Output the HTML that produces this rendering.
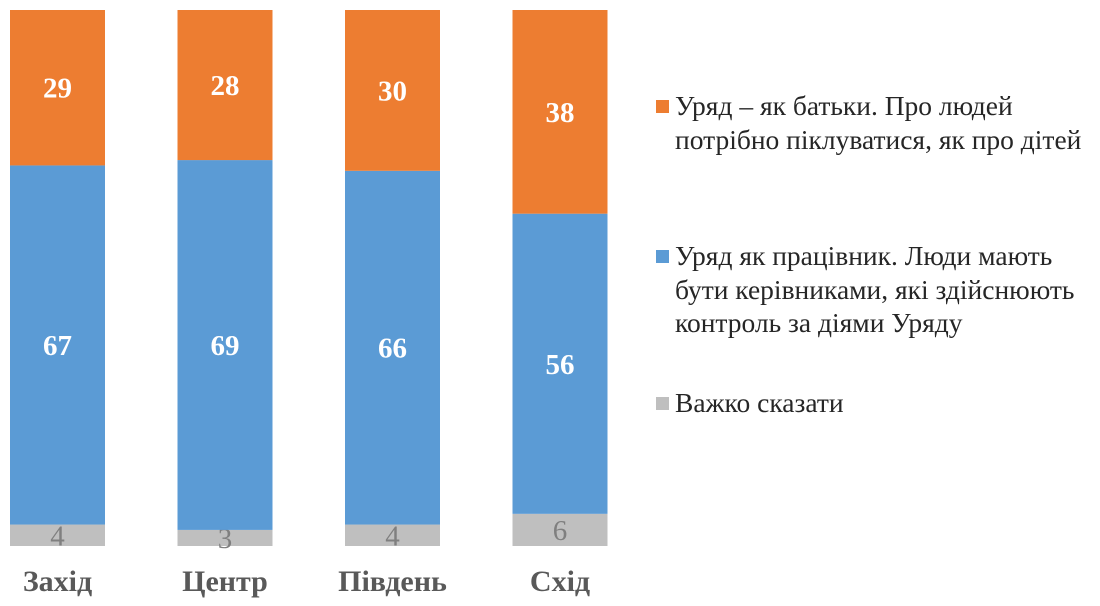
<!DOCTYPE html>
<html><head><meta charset="utf-8"><style>
body{margin:0;background:#fff;width:1100px;height:606px;overflow:hidden;font-family:"Liberation Serif",serif}
.leg{position:absolute;left:675px;font-size:27.5px;color:#262626;line-height:33.5px;white-space:nowrap}
.sq{position:absolute;left:656px;width:13px;height:13px}
</style></head><body>
<svg id="chart" width="650" height="606" style="position:absolute;left:0;top:0"></svg>
<div class="sq" style="top:100px;background:#ED7D31"></div>
<div class="leg" style="top:89px">Уряд – як батьки. Про людей<br>потрібно піклуватися, як про дітей</div>
<div class="sq" style="top:250px;background:#5B9BD5"></div>
<div class="leg" style="top:239px">Уряд як працівник. Люди мають<br>бути керівниками, які здійснюють<br>контроль за діями Уряду</div>
<div class="sq" style="top:397px;background:#BFBFBF"></div>
<div class="leg" style="top:386px">Важко сказати</div>
<script>
const categories=["Захід","Центр","Південь","Схід"];
const hardToSay=[4,3,4,6];
const worker=[67,69,66,56];
const parents=[29,28,30,38];
const svg=document.getElementById('chart');
const NS='http://www.w3.org/2000/svg';
const top0=10,bottom=546,scale=(bottom-top0)/100;
const y=v=>bottom-v*scale;
const xs=i=>10+i*167.5, bw=95;
function mk(tag,a){const e=document.createElementNS(NS,tag);for(const k in a)e.setAttribute(k,a[k]);svg.appendChild(e);return e;}
categories.forEach((c,i)=>{
  const series=[[hardToSay,'#BFBFBF','#7F7F7F','normal','hard'],[worker,'#5B9BD5','#fff','bold','worker'],[parents,'#ED7D31','#fff','bold','parents']];
  let acc=0;
  series.forEach(([arr,col,tc,fw,nm])=>{
    const v=arr[i];
    const r=mk('rect',{x:xs(i),y:y(acc+v),width:bw,height:v*scale,fill:col});
    
    
    const t=mk('text',{x:xs(i)+bw/2,y:y(acc+v/2)+10,'text-anchor':'middle','font-size':29,'font-weight':fw,fill:tc,'font-family':'Liberation Serif, serif'});
    t.textContent=v;
    
    
    acc+=v;
  });
  const l=mk('text',{x:xs(i)+bw/2,y:591,'text-anchor':'middle','font-size':30,'font-weight':'bold',fill:'#595959','font-family':'Liberation Serif, serif'});
  l.textContent=c;
  
  
});
</script>
</body></html>
